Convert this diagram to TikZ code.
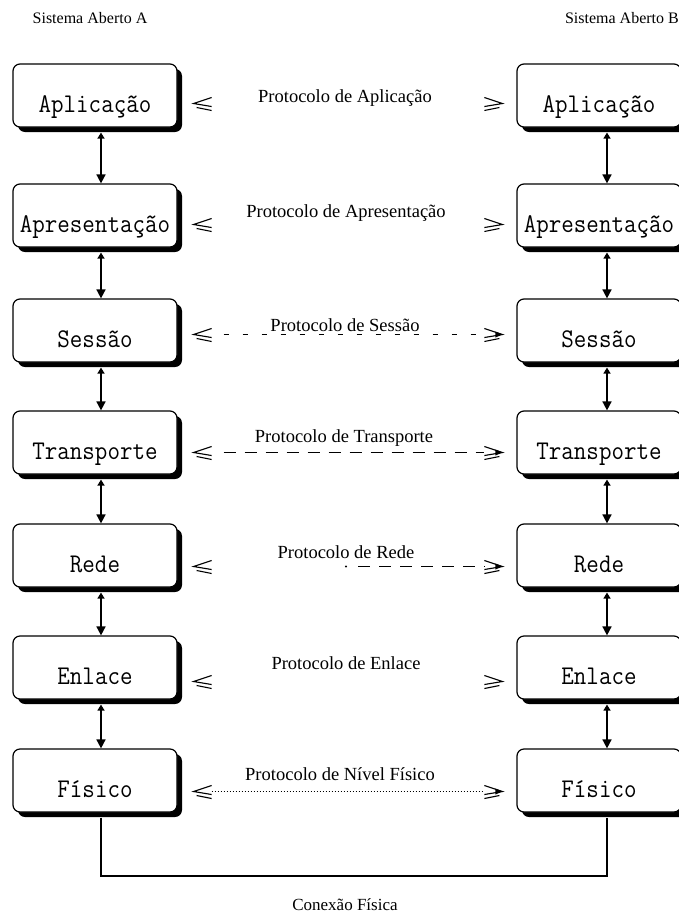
\documentclass[tikz,border=0pt]{standalone}
\usepackage{fontspec}
\setmainfont{Liberation Serif}
\newfontfamily\boxfont[FakeStretch=0.9]{Latin Modern Mono}
\usetikzlibrary{shadows,arrows.meta,calc}
\begin{document}
\begin{tikzpicture}[x=1pt,y=-1pt,
  layer/.style={draw, line width=1.2pt, rounded corners=7pt, minimum width=164pt,
    minimum height=63pt, fill=white, inner sep=0pt, text height=34pt, text depth=0pt,
    font=\boxfont\fontsize{27}{27}\selectfont,
    drop shadow={shadow xshift=5pt, shadow yshift=-5pt, fill=black, opacity=1}},
  protlabel/.style={font=\fontsize{18.5}{18.5}\selectfont, inner sep=0pt},
  syslabel/.style={font=\fontsize{16}{16}\selectfont, inner sep=0pt},
  vert/.style={line width=1.6pt, {Triangle[length=6pt,width=7pt]}-{Triangle[length=9pt,width=9pt]}},
  sessline/.style={line width=0.8pt, dash pattern=on 5pt off 14pt},
  transline/.style={line width=1.2pt, dash pattern=on 12pt off 9pt},
  fisline/.style={line width=0.9pt, dash pattern=on 1.5pt off 1.5pt},
  conn/.style={line width=2.6pt},
  lmk/.pic={\draw[line width=1.1pt] (18,-6) -- (0,0) -- (18,3) (3,4) -- (18,7);},
  rmk/.pic={\draw[line width=1.1pt] (-18,-6) -- (0,0) -- (-18,3) (-3,4) -- (-18,7);},
  rtip/.pic={\fill (0,0) -- (-7,-3) -- (-7,3) -- cycle;}
]
\useasboundingbox (0,0) rectangle (678,919);
\fill[white] (0,0) rectangle (678,919);

\node[syslabel] (sa) at (90,18) {Sistema Aberto A};
\node[syslabel, anchor=east] (sb) at (679,18) {Sistema Aberto B};

% boxes
\foreach \i/\y/\t in {1/95.5/Aplicação, 2/215.5/Apresentação, 3/330.5/Sessão,
  4/442.5/Transporte, 5/555.5/Rede, 6/667.5/Enlace, 7/780.5/Físico}{
  \node[layer] (L\i) at (95,\y) {\t};
  \node[layer] (R\i) at (599,\y) {\t};
}

% vertical arrows
\foreach \i [evaluate=\i as \j using int(\i+1)] in {1,...,6}{
  \draw[vert] ($(L\i.south)+(6,5)$) -- ($(L\j.north)+(6,0)$);
  \draw[vert] ($(R\i.south)+(8,5)$) -- ($(R\j.north)+(8,0)$);
}

% protocol labels
\node[protlabel] (p1) at (345,98) {Protocolo de Aplicação};
\node[protlabel] (p2) at (346,213) {Protocolo de Apresentação};
\node[protlabel] (p3) at (345,325) {Protocolo de Sessão};
\node[protlabel] (p4) at (344,438) {Protocolo de Transporte};
\node[protlabel] (p5) at (346,552) {Protocolo de Rede};
\node[protlabel] (p6) at (346,663) {Protocolo de Enlace};
\node[protlabel] (p7) at (340,774) {Protocolo de Nível Físico};

% markers
\foreach \i/\d in {1/8, 2/9, 3/4, 4/10, 5/11, 6/14, 7/11}{
  \coordinate (ml\i) at ($(L\i.east)+(16,\d)$);
  \coordinate (mr\i) at ($(R\i.west)+(-14,\d)$);
  \pic at (ml\i) {lmk};
  \pic at (mr\i) {rmk};
}
\foreach \i in {3,4,5,7}{ \pic at (mr\i) {rtip}; }

% protocol lines
\draw[sessline] ($(ml3)+(30,0)$) -- ($(mr3)+(-18,0)$);
\draw[transline] ($(ml4)+(30,0)$) -- ($(mr4)+(-18,0)$);
\fill (p5.south |- ml5) circle (1.2pt);
\draw[transline] ($(p5.south |- ml5)+(12,0)$) -- ($(mr5)+(-18,0)$);
\draw[fisline] ($(ml7)+(18,0)$) -- ($(mr7)+(-18,0)$);

% physical connection
\coordinate (cb) at (345,876);
\draw[conn] ($(L7.south)+(6,5)$) |- (cb) -| ($(R7.south)+(8,5)$);
\node[syslabel, font=\fontsize{17}{17}\selectfont] (cf) at (345,905) {Conexão Física};
\end{tikzpicture}
\end{document}
